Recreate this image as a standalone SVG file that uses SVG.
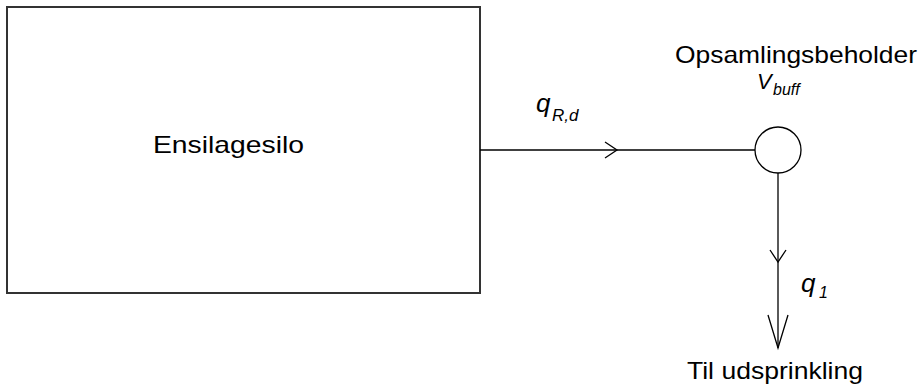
<svg xmlns="http://www.w3.org/2000/svg" width="920" height="385" viewBox="0 0 920 385">
<style>
text{font-family:"Liberation Sans",Arial,sans-serif;fill:#000}
.lbl{font-size:24px}
.it{font-style:italic}
.ln{stroke:#000;stroke-width:1.3;fill:none}
</style>
<rect width="920" height="385" fill="#fff"/>
<g id="silo">
<rect x="7" y="7" width="473" height="286" fill="#fff" stroke="#333" stroke-width="2"/>
<text class="lbl" x="153" y="153" textLength="151" lengthAdjust="spacingAndGlyphs">Ensilagesilo</text>
</g>
<g id="buffer">
<circle cx="778" cy="150" r="23" fill="#fff" stroke="#000" stroke-width="1.3"/>
<text class="lbl" x="675" y="63" textLength="242" lengthAdjust="spacingAndGlyphs">Opsamlingsbeholder</text>
<text class="it" x="757" y="89" font-size="22">V</text>
<text class="it" x="773" y="95" font-size="16">buff</text>
</g>
<g id="outlet">
<text class="lbl" x="687" y="379" textLength="176" lengthAdjust="spacingAndGlyphs">Til udsprinkling</text>
</g>
<g id="connectors">
<path class="ln" d="M480 150H755"/>
<path class="ln" d="M605 142L617 150L605 158"/>
<path class="ln" d="M778 173V348"/>
<path class="ln" d="M770 250L778 262L786 250"/>
<path class="ln" d="M768 315L778 348L788 315"/>
<text class="it" x="536" y="112" font-size="26">q</text>
<text class="it" x="552" y="121" font-size="17">R,d</text>
<text class="it" x="801" y="292" font-size="26">q</text>
<text class="it" x="819" y="298" font-size="16">1</text>
</g>
</svg>
